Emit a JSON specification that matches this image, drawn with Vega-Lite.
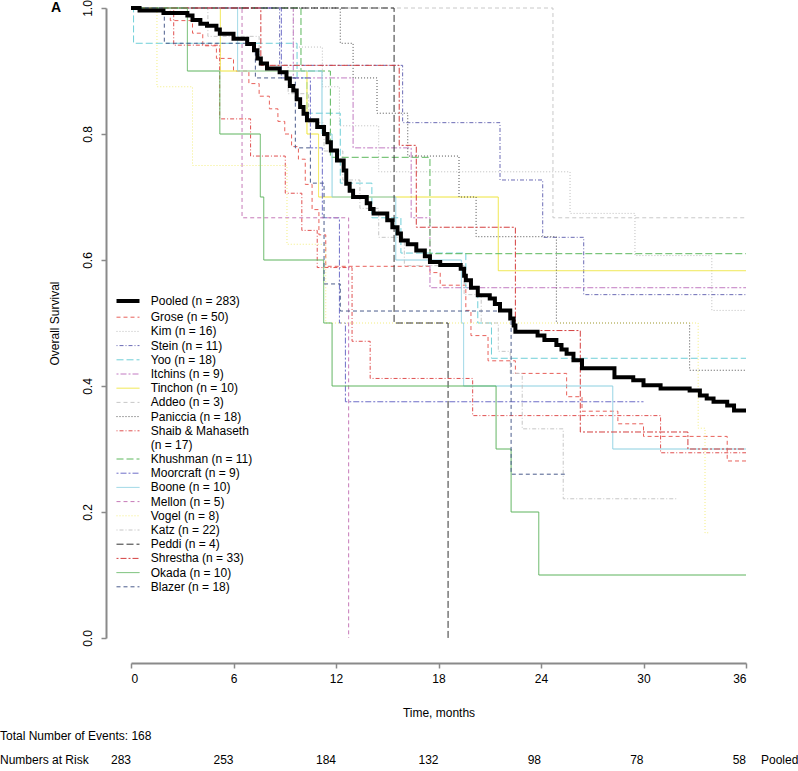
{
  "$schema": "https://vega.github.io/schema/vega-lite/v6.json",
  "width": 615,
  "height": 630,
  "autosize": "none",
  "padding": {"left": 131, "top": 8, "right": 52, "bottom": 133},
  "config": {"view": {"stroke": null}, "font": "Liberation Sans"},
  "datasets": {
    "km": [
      {"k":"Pooled (n = 283)","t":0,"s":1.0},{"k":"Pooled (n = 283)","t":0.5,"s":0.996},{"k":"Pooled (n = 283)","t":1.9,"s":0.992},{"k":"Pooled (n = 283)","t":3.3,"s":0.988},{"k":"Pooled (n = 283)","t":3.6,"s":0.981},{"k":"Pooled (n = 283)","t":4.06,"s":0.975},{"k":"Pooled (n = 283)","t":4.45,"s":0.972},{"k":"Pooled (n = 283)","t":5.0,"s":0.966},{"k":"Pooled (n = 283)","t":5.2,"s":0.959},{"k":"Pooled (n = 283)","t":6.0,"s":0.951},{"k":"Pooled (n = 283)","t":6.8,"s":0.943},{"k":"Pooled (n = 283)","t":7.2,"s":0.933},{"k":"Pooled (n = 283)","t":7.4,"s":0.92},{"k":"Pooled (n = 283)","t":7.6,"s":0.912},{"k":"Pooled (n = 283)","t":7.96,"s":0.904},{"k":"Pooled (n = 283)","t":8.7,"s":0.898},{"k":"Pooled (n = 283)","t":9.1,"s":0.888},{"k":"Pooled (n = 283)","t":9.3,"s":0.876},{"k":"Pooled (n = 283)","t":9.5,"s":0.869},{"k":"Pooled (n = 283)","t":9.7,"s":0.855},{"k":"Pooled (n = 283)","t":9.9,"s":0.843},{"k":"Pooled (n = 283)","t":10.1,"s":0.832},{"k":"Pooled (n = 283)","t":10.3,"s":0.822},{"k":"Pooled (n = 283)","t":10.9,"s":0.811},{"k":"Pooled (n = 283)","t":11.3,"s":0.8},{"k":"Pooled (n = 283)","t":11.5,"s":0.787},{"k":"Pooled (n = 283)","t":11.7,"s":0.774},{"k":"Pooled (n = 283)","t":12.06,"s":0.758},{"k":"Pooled (n = 283)","t":12.45,"s":0.742},{"k":"Pooled (n = 283)","t":12.6,"s":0.721},{"k":"Pooled (n = 283)","t":12.8,"s":0.71},{"k":"Pooled (n = 283)","t":13.0,"s":0.7},{"k":"Pooled (n = 283)","t":13.8,"s":0.69},{"k":"Pooled (n = 283)","t":14.0,"s":0.681},{"k":"Pooled (n = 283)","t":14.2,"s":0.674},{"k":"Pooled (n = 283)","t":15.0,"s":0.663},{"k":"Pooled (n = 283)","t":15.3,"s":0.652},{"k":"Pooled (n = 283)","t":15.6,"s":0.642},{"k":"Pooled (n = 283)","t":15.8,"s":0.631},{"k":"Pooled (n = 283)","t":16.2,"s":0.625},{"k":"Pooled (n = 283)","t":16.7,"s":0.615},{"k":"Pooled (n = 283)","t":17.2,"s":0.606},{"k":"Pooled (n = 283)","t":17.5,"s":0.597},{"k":"Pooled (n = 283)","t":18.1,"s":0.592},{"k":"Pooled (n = 283)","t":19.3,"s":0.586},{"k":"Pooled (n = 283)","t":19.5,"s":0.575},{"k":"Pooled (n = 283)","t":19.6,"s":0.568},{"k":"Pooled (n = 283)","t":19.9,"s":0.556},{"k":"Pooled (n = 283)","t":20.3,"s":0.544},{"k":"Pooled (n = 283)","t":21.0,"s":0.539},{"k":"Pooled (n = 283)","t":21.3,"s":0.53},{"k":"Pooled (n = 283)","t":21.6,"s":0.52},{"k":"Pooled (n = 283)","t":22.2,"s":0.507},{"k":"Pooled (n = 283)","t":22.4,"s":0.496},{"k":"Pooled (n = 283)","t":22.5,"s":0.486},{"k":"Pooled (n = 283)","t":23.8,"s":0.48},{"k":"Pooled (n = 283)","t":24.2,"s":0.473},{"k":"Pooled (n = 283)","t":24.9,"s":0.465},{"k":"Pooled (n = 283)","t":25.2,"s":0.458},{"k":"Pooled (n = 283)","t":25.5,"s":0.451},{"k":"Pooled (n = 283)","t":25.9,"s":0.441},{"k":"Pooled (n = 283)","t":26.4,"s":0.428},{"k":"Pooled (n = 283)","t":28.3,"s":0.414},{"k":"Pooled (n = 283)","t":29.4,"s":0.409},{"k":"Pooled (n = 283)","t":30.0,"s":0.401},{"k":"Pooled (n = 283)","t":31.0,"s":0.396},{"k":"Pooled (n = 283)","t":32.7,"s":0.393},{"k":"Pooled (n = 283)","t":33.3,"s":0.385},{"k":"Pooled (n = 283)","t":33.7,"s":0.38},{"k":"Pooled (n = 283)","t":34.1,"s":0.375},{"k":"Pooled (n = 283)","t":34.9,"s":0.369},{"k":"Pooled (n = 283)","t":35.3,"s":0.361},{"k":"Pooled (n = 283)","t":36,"s":0.361},

      {"k":"Grose (n = 50)","t":0,"s":1},{"k":"Grose (n = 50)","t":2.3,"s":0.98},{"k":"Grose (n = 50)","t":3.6,"s":0.96},{"k":"Grose (n = 50)","t":4.2,"s":0.94},{"k":"Grose (n = 50)","t":5.0,"s":0.92},{"k":"Grose (n = 50)","t":6.0,"s":0.9},{"k":"Grose (n = 50)","t":6.9,"s":0.88},{"k":"Grose (n = 50)","t":7.5,"s":0.86},{"k":"Grose (n = 50)","t":8.1,"s":0.84},{"k":"Grose (n = 50)","t":8.6,"s":0.82},{"k":"Grose (n = 50)","t":9.0,"s":0.8},{"k":"Grose (n = 50)","t":9.4,"s":0.78},{"k":"Grose (n = 50)","t":9.8,"s":0.76},{"k":"Grose (n = 50)","t":10.2,"s":0.72},{"k":"Grose (n = 50)","t":10.6,"s":0.68},{"k":"Grose (n = 50)","t":11.0,"s":0.64},{"k":"Grose (n = 50)","t":11.4,"s":0.59},{"k":"Grose (n = 50)","t":17.5,"s":0.58},{"k":"Grose (n = 50)","t":18.1,"s":0.56},{"k":"Grose (n = 50)","t":19.6,"s":0.52},{"k":"Grose (n = 50)","t":19.9,"s":0.48},{"k":"Grose (n = 50)","t":20.9,"s":0.44},{"k":"Grose (n = 50)","t":22.5,"s":0.42},{"k":"Grose (n = 50)","t":25.5,"s":0.383},{"k":"Grose (n = 50)","t":26.4,"s":0.36},{"k":"Grose (n = 50)","t":28.5,"s":0.34},{"k":"Grose (n = 50)","t":30.0,"s":0.32},{"k":"Grose (n = 50)","t":34.9,"s":0.281},{"k":"Grose (n = 50)","t":36,"s":0.281},

      {"k":"Kim (n = 16)","t":0,"s":1},{"k":"Kim (n = 16)","t":9.5,"s":0.938},{"k":"Kim (n = 16)","t":11.2,"s":0.875},{"k":"Kim (n = 16)","t":12.2,"s":0.813},{"k":"Kim (n = 16)","t":14.5,"s":0.74},{"k":"Kim (n = 16)","t":25.7,"s":0.674},{"k":"Kim (n = 16)","t":29.5,"s":0.607},{"k":"Kim (n = 16)","t":34.0,"s":0.52},{"k":"Kim (n = 16)","t":36,"s":0.52},

      {"k":"Stein (n = 11)","t":0,"s":1},{"k":"Stein (n = 11)","t":8.7,"s":0.909},{"k":"Stein (n = 11)","t":15.9,"s":0.818},{"k":"Stein (n = 11)","t":21.6,"s":0.727},{"k":"Stein (n = 11)","t":24.1,"s":0.636},{"k":"Stein (n = 11)","t":26.5,"s":0.545},{"k":"Stein (n = 11)","t":36,"s":0.545},

      {"k":"Yoo (n = 18)","t":0,"s":1},{"k":"Yoo (n = 18)","t":0.15,"s":0.944},{"k":"Yoo (n = 18)","t":9.72,"s":0.889},{"k":"Yoo (n = 18)","t":10.3,"s":0.833},{"k":"Yoo (n = 18)","t":12.25,"s":0.722},{"k":"Yoo (n = 18)","t":14.1,"s":0.667},{"k":"Yoo (n = 18)","t":15.8,"s":0.611},{"k":"Yoo (n = 18)","t":19.6,"s":0.556},{"k":"Yoo (n = 18)","t":20.3,"s":0.5},{"k":"Yoo (n = 18)","t":21.1,"s":0.444},{"k":"Yoo (n = 18)","t":36,"s":0.444},

      {"k":"Itchins (n = 9)","t":0,"s":1},{"k":"Itchins (n = 9)","t":9.5,"s":0.889},{"k":"Itchins (n = 9)","t":13.0,"s":0.778},{"k":"Itchins (n = 9)","t":16.4,"s":0.667},{"k":"Itchins (n = 9)","t":17.5,"s":0.556},{"k":"Itchins (n = 9)","t":36,"s":0.556},

      {"k":"Tinchon (n = 10)","t":0,"s":1},{"k":"Tinchon (n = 10)","t":5.23,"s":0.9},{"k":"Tinchon (n = 10)","t":10.3,"s":0.8},{"k":"Tinchon (n = 10)","t":10.98,"s":0.7},{"k":"Tinchon (n = 10)","t":21.5,"s":0.583},{"k":"Tinchon (n = 10)","t":36,"s":0.583},

      {"k":"Addeo (n = 3)","t":0,"s":1},{"k":"Addeo (n = 3)","t":24.7,"s":0.667},{"k":"Addeo (n = 3)","t":36,"s":0.667},

      {"k":"Paniccia (n = 18)","t":0,"s":1},{"k":"Paniccia (n = 18)","t":12.25,"s":0.944},{"k":"Paniccia (n = 18)","t":13.0,"s":0.889},{"k":"Paniccia (n = 18)","t":14.4,"s":0.833},{"k":"Paniccia (n = 18)","t":16.2,"s":0.765},{"k":"Paniccia (n = 18)","t":19.2,"s":0.7},{"k":"Paniccia (n = 18)","t":20.2,"s":0.637},{"k":"Paniccia (n = 18)","t":24.9,"s":0.5},{"k":"Paniccia (n = 18)","t":32.7,"s":0.425},{"k":"Paniccia (n = 18)","t":36,"s":0.425},

      {"k":"Shaib & Mahaseth (n = 17)","t":0,"s":1},{"k":"Shaib & Mahaseth (n = 17)","t":2.5,"s":0.941},{"k":"Shaib & Mahaseth (n = 17)","t":5.19,"s":0.824},{"k":"Shaib & Mahaseth (n = 17)","t":7.0,"s":0.765},{"k":"Shaib & Mahaseth (n = 17)","t":9.03,"s":0.706},{"k":"Shaib & Mahaseth (n = 17)","t":10.0,"s":0.647},{"k":"Shaib & Mahaseth (n = 17)","t":10.9,"s":0.588},{"k":"Shaib & Mahaseth (n = 17)","t":12.94,"s":0.471},{"k":"Shaib & Mahaseth (n = 17)","t":14.0,"s":0.412},{"k":"Shaib & Mahaseth (n = 17)","t":20.0,"s":0.353},{"k":"Shaib & Mahaseth (n = 17)","t":31.0,"s":0.294},{"k":"Shaib & Mahaseth (n = 17)","t":36,"s":0.294},

      {"k":"Khushman (n = 11)","t":0,"s":1},{"k":"Khushman (n = 11)","t":9.95,"s":0.9},{"k":"Khushman (n = 11)","t":11.67,"s":0.763},{"k":"Khushman (n = 11)","t":17.5,"s":0.61},{"k":"Khushman (n = 11)","t":36,"s":0.61},

      {"k":"Moorcraft (n = 9)","t":0,"s":1},{"k":"Moorcraft (n = 9)","t":8.8,"s":0.889},{"k":"Moorcraft (n = 9)","t":10.5,"s":0.778},{"k":"Moorcraft (n = 9)","t":11.2,"s":0.667},{"k":"Moorcraft (n = 9)","t":12.2,"s":0.5},{"k":"Moorcraft (n = 9)","t":12.55,"s":0.375},{"k":"Moorcraft (n = 9)","t":30.0,"s":0.375},

      {"k":"Boone (n = 10)","t":0,"s":1},{"k":"Boone (n = 10)","t":6.24,"s":0.9},{"k":"Boone (n = 10)","t":11.18,"s":0.8},{"k":"Boone (n = 10)","t":11.77,"s":0.7},{"k":"Boone (n = 10)","t":15.5,"s":0.6},{"k":"Boone (n = 10)","t":19.34,"s":0.5},{"k":"Boone (n = 10)","t":19.47,"s":0.4},{"k":"Boone (n = 10)","t":28.2,"s":0.3},{"k":"Boone (n = 10)","t":36,"s":0.3},

      {"k":"Mellon (n = 5)","t":0,"s":1},{"k":"Mellon (n = 5)","t":6.5,"s":0.667},{"k":"Mellon (n = 5)","t":12.74,"s":0},

      {"k":"Vogel (n = 8)","t":0,"s":1},{"k":"Vogel (n = 8)","t":1.52,"s":0.875},{"k":"Vogel (n = 8)","t":3.6,"s":0.75},{"k":"Vogel (n = 8)","t":9.13,"s":0.625},{"k":"Vogel (n = 8)","t":11.4,"s":0.5},{"k":"Vogel (n = 8)","t":33.2,"s":0.333},{"k":"Vogel (n = 8)","t":33.6,"s":0.167},{"k":"Vogel (n = 8)","t":33.8,"s":0.167},

      {"k":"Katz (n = 22)","t":0,"s":1},{"k":"Katz (n = 22)","t":4.5,"s":0.955},{"k":"Katz (n = 22)","t":7.5,"s":0.909},{"k":"Katz (n = 22)","t":9.2,"s":0.864},{"k":"Katz (n = 22)","t":10.4,"s":0.818},{"k":"Katz (n = 22)","t":11.3,"s":0.773},{"k":"Katz (n = 22)","t":12.4,"s":0.727},{"k":"Katz (n = 22)","t":13.4,"s":0.682},{"k":"Katz (n = 22)","t":14.5,"s":0.636},{"k":"Katz (n = 22)","t":16.0,"s":0.591},{"k":"Katz (n = 22)","t":19.5,"s":0.545},{"k":"Katz (n = 22)","t":20.5,"s":0.5},{"k":"Katz (n = 22)","t":21.5,"s":0.455},{"k":"Katz (n = 22)","t":22.2,"s":0.42},{"k":"Katz (n = 22)","t":22.9,"s":0.332},{"k":"Katz (n = 22)","t":25.3,"s":0.221},{"k":"Katz (n = 22)","t":32.0,"s":0.221},

      {"k":"Peddi (n = 4)","t":0,"s":1},{"k":"Peddi (n = 4)","t":15.4,"s":0.5},{"k":"Peddi (n = 4)","t":18.56,"s":0},

      {"k":"Shrestha (n = 33)","t":0,"s":1},{"k":"Shrestha (n = 33)","t":7.6,"s":0.909},{"k":"Shrestha (n = 33)","t":15.7,"s":0.782},{"k":"Shrestha (n = 33)","t":16.7,"s":0.652},{"k":"Shrestha (n = 33)","t":22.5,"s":0.488},{"k":"Shrestha (n = 33)","t":26.3,"s":0.327},{"k":"Shrestha (n = 33)","t":32.6,"s":0.3},{"k":"Shrestha (n = 33)","t":36,"s":0.3},

      {"k":"Okada (n = 10)","t":0,"s":1},{"k":"Okada (n = 10)","t":3.3,"s":0.9},{"k":"Okada (n = 10)","t":5.2,"s":0.8},{"k":"Okada (n = 10)","t":7.57,"s":0.7},{"k":"Okada (n = 10)","t":7.77,"s":0.6},{"k":"Okada (n = 10)","t":11.28,"s":0.5},{"k":"Okada (n = 10)","t":11.77,"s":0.4},{"k":"Okada (n = 10)","t":21.37,"s":0.3},{"k":"Okada (n = 10)","t":22.25,"s":0.2},{"k":"Okada (n = 10)","t":23.87,"s":0.1},{"k":"Okada (n = 10)","t":36,"s":0.1},

      {"k":"Blazer (n = 18)","t":0,"s":1},{"k":"Blazer (n = 18)","t":1.95,"s":0.944},{"k":"Blazer (n = 18)","t":7.28,"s":0.889},{"k":"Blazer (n = 18)","t":9.62,"s":0.778},{"k":"Blazer (n = 18)","t":10.5,"s":0.722},{"k":"Blazer (n = 18)","t":11.3,"s":0.562},{"k":"Blazer (n = 18)","t":12.25,"s":0.519},{"k":"Blazer (n = 18)","t":22.25,"s":0.26},{"k":"Blazer (n = 18)","t":25.5,"s":0.26}
    ],
    "risk": [
      {"t":0,"n":"283"},{"t":6,"n":"253"},{"t":12,"n":"184"},{"t":18,"n":"132"},{"t":24,"n":"98"},{"t":30,"n":"78"},{"t":36,"n":"58"}
    ]
  },
  "layer": [
    {
      "data": {"name": "km"},
      "transform": [{"filter": "datum.k !== 'Pooled (n = 283)'"}],
      "mark": {"type": "line", "interpolate": "step-after", "strokeWidth": 1},
      "encoding": {
        "x": {"field": "t", "type": "quantitative",
              "scale": {"domain": [0, 36], "nice": false, "zero": false},
              "axis": {"values": [0,6,12,18,24,30,36], "offset": 25, "grid": false,
                       "domainColor": "#8a8a8a", "domainWidth": 2, "tickColor": "#8a8a8a", "tickWidth": 1.5, "tickSize": 5,
                       "labelFont": "Liberation Sans", "labelFontSize": 12, "labelColor": "#000", "labelPadding": 5,
                       "title": "Time, months", "titleFont": "Liberation Sans", "titleFontSize": 12, "titleFontWeight": "normal", "titleColor": "#000", "titlePadding": 23}},
        "y": {"field": "s", "type": "quantitative",
              "scale": {"domain": [0, 1], "nice": false, "zero": false},
              "axis": {"values": [0,0.2,0.4,0.6,0.8,1.0], "format": ".1f", "offset": 25, "grid": false,
                       "domainColor": "#8a8a8a", "domainWidth": 2, "tickColor": "#8a8a8a", "tickWidth": 1.5, "tickSize": 5,
                       "labelAngle": -90, "labelAlign": "center", "labelBaseline": "bottom",
                       "labelFont": "Liberation Sans", "labelFontSize": 12, "labelColor": "#000", "labelPadding": 7,
                       "title": "Overall Survival", "titleFont": "Liberation Sans", "titleFontSize": 12, "titleFontWeight": "normal", "titleColor": "#000", "titlePadding": 20}},
        "color": {"field": "k", "type": "nominal",
                  "scale": {"domain": ["Pooled (n = 283)","Grose (n = 50)","Kim (n = 16)","Stein (n = 11)","Yoo (n = 18)","Itchins (n = 9)","Tinchon (n = 10)","Addeo (n = 3)","Paniccia (n = 18)","Shaib & Mahaseth (n = 17)","Khushman (n = 11)","Moorcraft (n = 9)","Boone (n = 10)","Mellon (n = 5)","Vogel (n = 8)","Katz (n = 22)","Peddi (n = 4)","Shrestha (n = 33)","Okada (n = 10)","Blazer (n = 18)"],
                            "range": ["#000000","#e8605a","#bdbdbd","#6b6bb5","#6fcfd8","#c27bc2","#eee43a","#c8c8c8","#505050","#e05050","#5cb85c","#6e6ec8","#8acfe0","#c67ab8","#f3ee80","#c6c6c6","#333333","#d43f3f","#5db35d","#4b5c8c"]},
                  "legend": {"orient": "none", "legendX": -9, "legendY": 287, "title": null,
                             "symbolType": "M-2,0H2", "symbolSize": 132, "symbolStrokeWidth": 1,
                             "labelFont": "Liberation Sans", "labelFontSize": 12, "labelColor": "#000", "labelOffset": 16.75, "labelLimit": 300,
                             "rowPadding": 2.2,
                             "labelExpr": "datum.label == 'Shaib & Mahaseth (n = 17)' ? ['Shaib & Mahaseth', '(n = 17)'] : datum.label",
                             "encode": {"symbols": {"update": {"strokeWidth": {"signal": "datum.value === 'Pooled (n = 283)' ? 4 : 1"}}}}}},
        "strokeDash": {"field": "k", "type": "nominal",
                       "scale": {"domain": ["Pooled (n = 283)","Grose (n = 50)","Kim (n = 16)","Stein (n = 11)","Yoo (n = 18)","Itchins (n = 9)","Tinchon (n = 10)","Addeo (n = 3)","Paniccia (n = 18)","Shaib & Mahaseth (n = 17)","Khushman (n = 11)","Moorcraft (n = 9)","Boone (n = 10)","Mellon (n = 5)","Vogel (n = 8)","Katz (n = 22)","Peddi (n = 4)","Shrestha (n = 33)","Okada (n = 10)","Blazer (n = 18)"],
                                 "range": [[1,0],[4,3],[1,2],[1,2,4,2],[7,3],[2,2,6,2],[1,0],[4,3],[1,2],[1,2,4,2],[7,3],[2,2,6,2],[1,0],[4,3],[1,2],[1,2,4,2],[7,3],[2,2,6,2],[1,0],[4,3]]},
                       "legend": {"orient": "none", "legendX": -9, "legendY": 287, "title": null,
                             "symbolType": "M-2,0H2", "symbolSize": 132, "symbolStrokeWidth": 1,
                             "labelFont": "Liberation Sans", "labelFontSize": 12, "labelColor": "#000", "labelOffset": 16.75, "labelLimit": 300,
                             "rowPadding": 2.2,
                             "labelExpr": "datum.label == 'Shaib & Mahaseth (n = 17)' ? ['Shaib & Mahaseth', '(n = 17)'] : datum.label",
                             "encode": {"symbols": {"update": {"strokeWidth": {"signal": "datum.value === 'Pooled (n = 283)' ? 4 : 1"}}}}}}
      }
    },
    {
      "data": {"name": "km"},
      "transform": [{"filter": "datum.k === 'Pooled (n = 283)'"}],
      "mark": {"type": "line", "interpolate": "step-after", "strokeWidth": 4},
      "encoding": {
        "x": {"field": "t", "type": "quantitative"},
        "y": {"field": "s", "type": "quantitative"},
        "color": {"field": "k", "type": "nominal"},
        "strokeDash": {"field": "k", "type": "nominal"}
      }
    },
    {
      "data": {"name": "risk"},
      "mark": {"type": "text", "align": "right", "baseline": "middle", "font": "Liberation Sans", "fontSize": 12, "color": "#000"},
      "encoding": {
        "x": {"field": "t", "type": "quantitative"},
        "y": {"value": 752},
        "text": {"field": "n"}
      }
    },
    {
      "data": {"values": [{"label": "Numbers at Risk"}]},
      "mark": {"type": "text", "align": "left", "baseline": "middle", "font": "Liberation Sans", "fontSize": 12, "color": "#000"},
      "encoding": {"x": {"value": -131}, "y": {"value": 752}, "text": {"field": "label"}}
    },
    {
      "data": {"values": [{"label": "Pooled"}]},
      "mark": {"type": "text", "align": "left", "baseline": "middle", "font": "Liberation Sans", "fontSize": 12, "color": "#000"},
      "encoding": {"x": {"value": 630}, "y": {"value": 752}, "text": {"field": "label"}}
    },
    {
      "data": {"values": [{"label": "Total Number of Events: 168"}]},
      "mark": {"type": "text", "align": "left", "baseline": "middle", "font": "Liberation Sans", "fontSize": 12, "color": "#000"},
      "encoding": {"x": {"value": -131}, "y": {"value": 728}, "text": {"field": "label"}}
    },
    {
      "data": {"values": [{"label": "A"}]},
      "mark": {"type": "text", "align": "center", "baseline": "middle", "font": "Liberation Sans", "fontSize": 14, "fontWeight": "bold", "color": "#000"},
      "encoding": {"x": {"value": -75}, "y": {"value": 0}, "text": {"field": "label"}}
    }
  ]
}
